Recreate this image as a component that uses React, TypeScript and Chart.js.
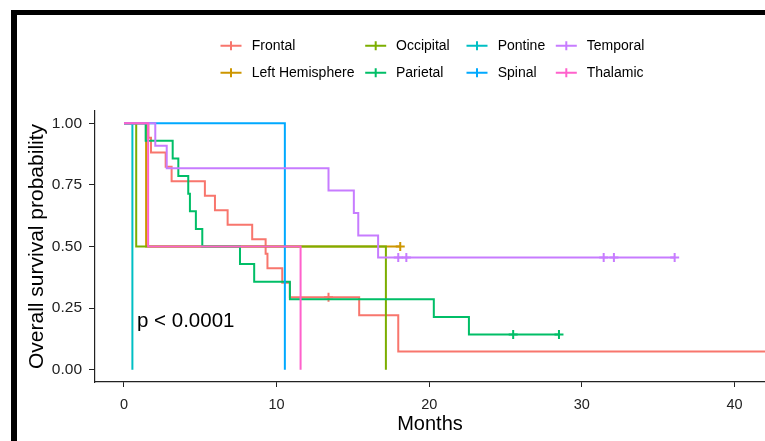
import React, { useEffect, useRef } from 'react';
import { Chart, registerables } from 'chart.js';

Chart.register(...registerables);

// ---- Data ----
const groups = ['Frontal', 'Left Hemisphere', 'Occipital', 'Parietal', 'Pontine', 'Spinal', 'Temporal', 'Thalamic'];
const colors = ['#F8766D', '#CD9600', '#7CAE00', '#00BE67', '#00BFC4', '#00A9FF', '#C77CFF', '#FF61CC'];

const frontalTime = [0, 1.6, 1.77, 2.73, 3.12, 5.3, 5.96, 6.79, 8.4, 9.28, 9.4, 10.37, 10.87, 13.4, 15.41, 17.97, 42];
const frontalSurv = [1, 0.941, 0.882, 0.824, 0.765, 0.706, 0.647, 0.588, 0.529, 0.471, 0.412, 0.353, 0.294, 0.294, 0.221, 0.074, 0.074];
const frontalCensor = [0, 0, 0, 0, 0, 0, 0, 0, 0, 0, 0, 0, 0, 1, 0, 0, 0];

const leftHemiTime = [0, 1.45, 18.1];
const leftHemiSurv = [1, 0.5, 0.5];
const leftHemiCensor = [0, 0, 1];

const occipitalTime = [0, 0.8, 17.16];
const occipitalSurv = [1, 0.5, 0];
const occipitalCensor = [0, 0, 0];

const parietalTime = [0, 1.42, 3.19, 3.56, 4.21, 4.32, 4.71, 5.13, 7.6, 8.53, 10.87, 20.3, 22.6, 25.5, 28.5];
const parietalSurv = [1, 0.929, 0.857, 0.786, 0.714, 0.643, 0.571, 0.5, 0.429, 0.357, 0.286, 0.214, 0.143, 0.143, 0.143];
const parietalCensor = [0, 0, 0, 0, 0, 0, 0, 0, 0, 0, 0, 0, 0, 1, 1];

const pontineTime = [0, 0.55];
const pontineSurv = [1, 0];
const pontineCensor = [0, 0];

const spinalTime = [0, 10.54];
const spinalSurv = [1, 0];
const spinalCensor = [0, 0];

const temporalTime = [0, 2.05, 2.8, 13.4, 15.06, 15.35, 16.65, 17.97, 18.5, 31.43, 32.1, 36.08];
const temporalSurv = [1, 0.909, 0.818, 0.727, 0.636, 0.545, 0.455, 0.455, 0.455, 0.455, 0.455, 0.455];
const temporalCensor = [0, 0, 0, 0, 0, 0, 0, 1, 1, 1, 1, 1];

const thalamicTime = [0, 1.58, 11.57];
const thalamicSurv = [1, 0.5, 0];
const thalamicCensor = [0, 0, 0];

const seriesTime = [frontalTime, leftHemiTime, occipitalTime, parietalTime, pontineTime, spinalTime, temporalTime, thalamicTime];
const seriesSurv = [frontalSurv, leftHemiSurv, occipitalSurv, parietalSurv, pontineSurv, spinalSurv, temporalSurv, thalamicSurv];
const seriesCensor = [frontalCensor, leftHemiCensor, occipitalCensor, parietalCensor, pontineCensor, spinalCensor, temporalCensor, thalamicCensor];

const xTicks = [0, 10, 20, 30, 40];
const yTicks = [0, 0.25, 0.5, 0.75, 1];
const xTitle = 'Months';
const yTitle = 'Overall survival probability';
const pValueText = 'p < 0.0001';
const pValuePos = [0.85, 0.195];

const FONT = "'Liberation Sans', Arial, Helvetica, sans-serif";

export default function App() {
  const ref = useRef<HTMLCanvasElement>(null);

  useEffect(() => {
    document.body.style.margin = '0';
    const canvas = ref.current;
    if (!canvas) return;

    const datasets = groups.map((g, i) => ({
      label: g,
      data: seriesTime[i].map((t, k) => ({ x: t, y: seriesSurv[i][k], c: seriesCensor[i][k] })),
      borderColor: colors[i],
      backgroundColor: colors[i],
      borderWidth: 2,
      stepped: 'before' as const,
      fill: false,
      tension: 0,
      pointStyle: 'cross' as const,
      pointRadius: (ctx: any) => (ctx.raw && ctx.raw.c ? 4.5 : 0),
      pointHoverRadius: 0,
      pointBorderWidth: 2,
      pointBorderColor: colors[i],
      order: -i,
    }));

    const decor = {
      id: 'decor',
      afterDraw(chart: any) {
        const ctx = chart.ctx as CanvasRenderingContext2D;
        ctx.save();
        // screenshot frame
        ctx.fillStyle = '#000';
        ctx.fillRect(11, 10, 754, 5);
        ctx.fillRect(11, 10, 6, 431);

        // legend (4 columns x 2 rows, column-major)
        const markerX = [231, 375.7, 477, 566.3];
        const textX = [251.7, 396, 497.7, 586.7];
        const rowY = [45.7, 72.7];
        ctx.font = `14px ${FONT}`;
        ctx.textBaseline = 'middle';
        ctx.textAlign = 'left';
        groups.forEach((g, i) => {
          const col = Math.floor(i / 2);
          const row = i % 2;
          const cx = markerX[col];
          const cy = rowY[row];
          ctx.strokeStyle = colors[i];
          ctx.lineWidth = 2;
          ctx.beginPath();
          ctx.moveTo(cx - 10.5, cy);
          ctx.lineTo(cx + 10.5, cy);
          ctx.moveTo(cx, cy - 4.5);
          ctx.lineTo(cx, cy + 4.5);
          ctx.stroke();
          ctx.fillStyle = '#000';
          ctx.fillText(g, textX[col], cy + 0.5);
        });

        // p-value annotation
        const xs = chart.scales.x;
        const ys = chart.scales.y;
        ctx.font = `20.5px ${FONT}`;
        ctx.fillStyle = '#000';
        ctx.textBaseline = 'middle';
        ctx.fillText(pValueText, xs.getPixelForValue(pValuePos[0]), ys.getPixelForValue(pValuePos[1]));
        ctx.restore();
      },
    };

    const chart = new Chart(canvas, {
      type: 'line',
      data: { datasets: datasets as any },
      options: {
        animation: false,
        responsive: false,
        devicePixelRatio: 1,
        events: [],
        layout: { autoPadding: false, padding: { left: 0, right: 0, top: 111, bottom: 0 } },
        plugins: { legend: { display: false }, tooltip: { enabled: false } },
        scales: {
          x: {
            type: 'linear',
            min: -1.9,
            max: 42,
            afterFit: (s: any) => { s.height = 59; s.paddingLeft = 0; s.paddingRight = 0; },
            afterBuildTicks: (s: any) => { s.ticks = xTicks.map((v) => ({ value: v })); },
            grid: { drawOnChartArea: false, drawTicks: true, tickLength: 5, color: '#222', lineWidth: 1 },
            border: { display: true, color: '#222', width: 1.2 },
            ticks: { color: '#222', font: { family: FONT, size: 14.5 }, padding: 9, maxRotation: 0 },
            title: { display: true, text: xTitle, color: '#000', font: { family: FONT, size: 20 }, padding: { top: 0, bottom: 5 } },
          },
          y: {
            type: 'linear',
            min: -0.05,
            max: 1.05,
            afterFit: (s: any) => { s.width = 95; },
            afterBuildTicks: (s: any) => { s.ticks = yTicks.map((v) => ({ value: v })); },
            grid: { drawOnChartArea: false, drawTicks: true, tickLength: 6, color: '#222', lineWidth: 1 },
            border: { display: true, color: '#222', width: 1.2 },
            ticks: {
              color: '#222',
              font: { family: FONT, size: 15.5 },
              padding: 7,
              callback: (v: any) => Number(v).toFixed(2),
            },
            title: { display: true, text: yTitle, color: '#000', font: { family: FONT, size: 21 }, padding: { top: 25, bottom: 0 } },
          },
        },
      },
      plugins: [decor],
    });

    return () => chart.destroy();
  }, []);

  return <canvas ref={ref} width={765} height={441} style={{ display: 'block', width: 765, height: 441 }} />;
}
